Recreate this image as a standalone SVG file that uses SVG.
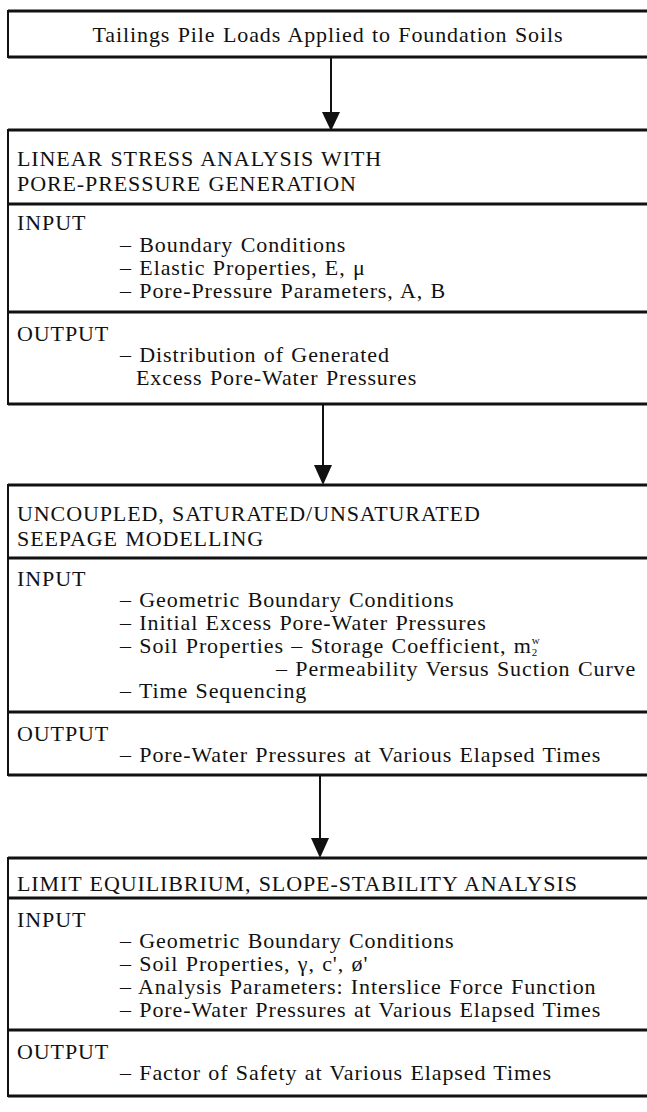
<svg xmlns="http://www.w3.org/2000/svg" width="647" height="1112" viewBox="0 0 647 1112">
<style>
.t{font-family:"Liberation Serif","Times New Roman",serif;font-size:22px;fill:#111;letter-spacing:0.9px;word-spacing:1px}
.s{font-size:11px;letter-spacing:0}
.box{fill:#fff;stroke:#111;stroke-width:2}
.hl{stroke:#111;stroke-width:3}
.conn{stroke:#111;stroke-width:2;fill:none}
.head{fill:#111}
</style>
<rect width="647" height="1112" fill="#fff"/>
<g id="connectors">
<line class="conn" x1="331" y1="57" x2="331" y2="114"/>
<polygon class="head" points="322,112 340,112 331,131"/>
<line class="conn" x1="323" y1="404" x2="323" y2="467"/>
<polygon class="head" points="314,465 332,465 323,485"/>
<line class="conn" x1="320" y1="775" x2="320" y2="840"/>
<polygon class="head" points="311,838 329,838 320,858"/>
</g>
<g id="loads">
<rect class="box" x="8" y="11" width="645" height="46"/>
<line class="hl" x1="8" y1="11" x2="647" y2="11"/>
<line class="hl" x1="8" y1="57" x2="647" y2="57"/>
<text class="t" x="328" y="42" text-anchor="middle">Tailings Pile Loads Applied to Foundation Soils</text>
</g>
<g id="stress">
<rect class="box" x="8" y="130" width="645" height="274"/>
<line class="hl" x1="8" y1="130" x2="647" y2="130"/>
<line class="hl" x1="8" y1="204" x2="647" y2="204"/>
<line class="hl" x1="8" y1="312" x2="647" y2="312"/>
<line class="hl" x1="8" y1="404" x2="647" y2="404"/>
<text class="t" x="17" y="166">LINEAR STRESS ANALYSIS WITH</text>
<text class="t" x="17" y="191">PORE-PRESSURE GENERATION</text>
<text class="t" x="17" y="230">INPUT</text>
<text class="t" x="120" y="252">– Boundary Conditions</text>
<text class="t" x="120" y="275">– Elastic Properties, E, μ</text>
<text class="t" x="120" y="298">– Pore-Pressure Parameters, A, B</text>
<text class="t" x="17" y="341">OUTPUT</text>
<text class="t" x="120" y="362">– Distribution of Generated</text>
<text class="t" x="136" y="385">Excess Pore-Water Pressures</text>
</g>
<g id="seepage">
<rect class="box" x="8" y="485" width="645" height="290"/>
<line class="hl" x1="8" y1="485" x2="647" y2="485"/>
<line class="hl" x1="8" y1="558" x2="647" y2="558"/>
<line class="hl" x1="8" y1="712" x2="647" y2="712"/>
<line class="hl" x1="8" y1="775" x2="647" y2="775"/>
<text class="t" x="17" y="521">UNCOUPLED, SATURATED/UNSATURATED</text>
<text class="t" x="17" y="546">SEEPAGE MODELLING</text>
<text class="t" x="17" y="586">INPUT</text>
<text class="t" x="120" y="607">– Geometric Boundary Conditions</text>
<text class="t" x="120" y="630">– Initial Excess Pore-Water Pressures</text>
<text class="t" x="120" y="653">– Soil Properties – Storage Coefficient, m<tspan class="s" dy="-9">w</tspan><tspan class="s" dx="-8" dy="12">2</tspan></text>
<text class="t" x="276" y="676">– Permeability Versus Suction Curve</text>
<text class="t" x="120" y="698">– Time Sequencing</text>
<text class="t" x="17" y="741">OUTPUT</text>
<text class="t" x="120" y="762">– Pore-Water Pressures at Various Elapsed Times</text>
</g>
<g id="stability">
<rect class="box" x="8" y="858" width="645" height="238"/>
<line class="hl" x1="8" y1="858" x2="647" y2="858"/>
<line class="hl" x1="8" y1="898" x2="647" y2="898"/>
<line class="hl" x1="8" y1="1030" x2="647" y2="1030"/>
<line class="hl" x1="8" y1="1096" x2="647" y2="1096"/>
<text class="t" x="17" y="891">LIMIT EQUILIBRIUM, SLOPE-STABILITY ANALYSIS</text>
<text class="t" x="17" y="927">INPUT</text>
<text class="t" x="120" y="948">– Geometric Boundary Conditions</text>
<text class="t" x="120" y="971">– Soil Properties, γ, c', ø'</text>
<text class="t" x="120" y="994">– Analysis Parameters: Interslice Force Function</text>
<text class="t" x="120" y="1017">– Pore-Water Pressures at Various Elapsed Times</text>
<text class="t" x="17" y="1059">OUTPUT</text>
<text class="t" x="120" y="1080">– Factor of Safety at Various Elapsed Times</text>
</g>
</svg>
